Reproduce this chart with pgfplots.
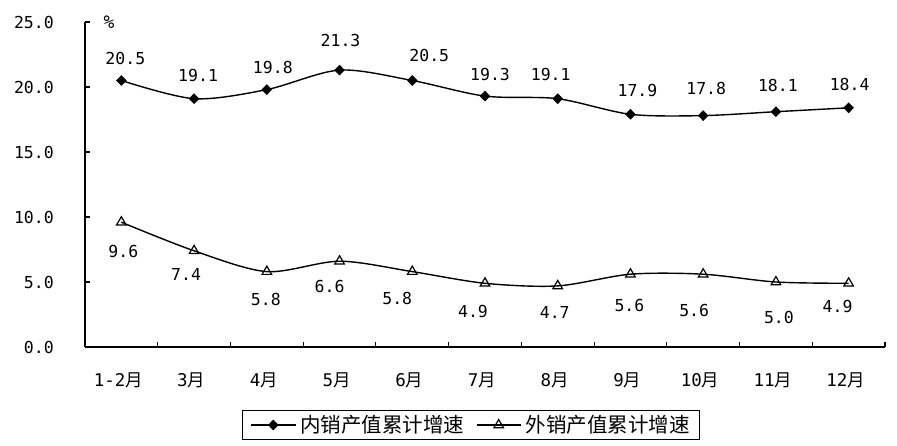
\documentclass[border=0pt]{standalone}
\usepackage{fontspec}
\setmainfont{DejaVu Sans Mono}
\newfontfamily\cjk{Noto Sans CJK SC}
\usepackage{pgfplots}
\usepackage{pgfplotstable}
\pgfplotsset{compat=1.18}

\pgfplotstableread{
x y dx dy
0 20.5 4 22
1 19.1 4 23
2 19.8 6 22
3 21.3 1 30
4 20.5 17 25
5 19.3 5 22
6 19.1 -7 24
7 17.9 7 24
8 17.8 3 27
9 18.1 2 26
10 18.4 1 23
}\tabA

\pgfplotstableread{
x y dx dy
0 9.6 2 -29
1 7.4 -8 -24
2 5.8 -1 -28
3 6.6 -10 -25
4 5.8 -15 -27
5 4.9 -12 -28
6 4.7 -3 -27
7 5.6 -1 -31
8 5.6 -9 -36
9 5.0 3 -35
10 4.9 -11 -23
}\tabB

\begin{document}
\begin{tikzpicture}
\begin{axis}[
  scale only axis, width=800pt, height=325pt,
  xmin=-0.5, xmax=10.5, ymin=0, ymax=25,
  axis x line*=bottom, axis y line*=left,
  axis line style={-, line width=1.3pt},
  clip=false,
  xtick={0,...,10},
  xticklabels={1-2{\cjk 月},3{\cjk 月},4{\cjk 月},5{\cjk 月},6{\cjk 月},7{\cjk 月},8{\cjk 月},9{\cjk 月},10{\cjk 月},11{\cjk 月},12{\cjk 月}},
  every major x tick/.append style={draw=none},
  minor xtick={0.5,1.5,...,10.5},
  ytick={0,5,...,25},
  tick align=inside,
  major tick length=5pt, minor tick length=5pt,
  tick style={line width=1.1pt, black},
  xticklabel style={font=\fontsize{17.5}{17.5}\selectfont, anchor=center, yshift=-33pt, xshift=-3pt},
  yticklabel style={font=\fontsize{16.5}{16.5}\selectfont, anchor=east, inner sep=0pt, xshift=-31pt},
  /pgf/number format/fixed, /pgf/number format/fixed zerofill,
  /pgf/number format/precision=1, /pgf/number format/assume math mode=true,
  legend columns=2,
  legend image code/.code={\draw[#1, mark repeat=2, mark phase=2] plot coordinates {(0pt,0pt)(22pt,0pt)(44pt,0pt)};},
  legend style={at={(rel axis cs:0.4825,-0.24)}, anchor=center, draw=black, line width=1.1pt,
    font=\cjk\fontsize{20.5}{22}\selectfont, inner xsep=8pt, inner ysep=4pt,
    nodes={inner xsep=1.5pt, inner ysep=1pt},
    /tikz/every odd column/.style={column sep=3pt},
    /tikz/every even column/.style={column sep=10pt}},
  nodes near coords={\pgfmathprintnumber{\pgfplotspointmeta}},
  point meta=y,
  visualization depends on={\thisrow{dx} \as \dx},
  visualization depends on={\thisrow{dy} \as \dy},
  every node near coord/.append style={anchor=center, xshift=\dx pt, yshift=\dy pt,
     font=\fontsize{16.5}{16.5}\selectfont, black},
]
\addplot[black, line width=1.4pt, smooth, tension=0.5, mark=diamond*,
  mark size=4.8pt, mark options={fill=black, xscale=1.3, line width=0.8pt}]
  table[x=x, y=y] {\tabA};
\addlegendentry{内销产值累计增速}
\addplot[black, line width=1.4pt, smooth, tension=0.5, mark=triangle,
  mark size=5.5pt, mark options={fill=white, line width=1.2pt}]
  table[x=x, y=y] {\tabB};
\addlegendentry{外销产值累计增速}
\node[font=\fontsize{18}{18}\selectfont, anchor=center] at ([xshift=24pt,yshift=0pt]rel axis cs:0,1) {\%};
\end{axis}
\pgfresetboundingbox
\path[use as bounding box] (-85pt,-98pt) rectangle (812pt,347pt);
\end{tikzpicture}
\end{document}
